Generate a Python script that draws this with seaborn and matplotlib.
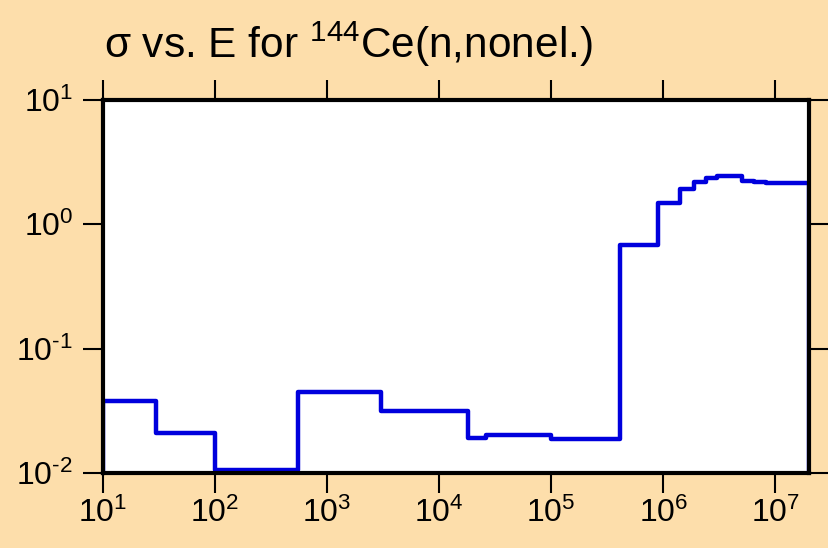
import numpy as np
import pandas as pd
import seaborn as sns
import matplotlib
import matplotlib.pyplot as plt

matplotlib.use("Agg")

# Group boundaries (eV) and cross sections (b)
EDGES = [10, 30, 100, 550, 3000, 1.8e4, 2.6e4, 1e5, 4.1e5, 9e5, 1.42e6,
         1.9e6, 2.4e6, 3e6, 5e6, 6.5e6, 8.3e6, 2e7]
SIGMA = [0.038, 0.021, 0.0105, 0.045, 0.0315, 0.0191, 0.0202, 0.0188,
         0.68, 1.48, 1.92, 2.19, 2.36, 2.45, 2.24, 2.18, 2.14]
X_EXP = [1, 2, 3, 4, 5, 6, 7]
Y_EXP = [-2, -1, 0, 1]

BG = "#FDDEAB"
LINE = "#0000DD"

sns.set_style("ticks")
plt.rcParams["font.family"] = ["Liberation Sans", "DejaVu Sans"]
plt.rcParams["mathtext.fontset"] = "custom"
plt.rcParams["mathtext.rm"] = "Liberation Sans"
plt.rcParams["mathtext.it"] = "Liberation Sans:italic"
plt.rcParams["text.color"] = "black"


def exp_label(e):
    # plain hyphen for negative exponents, as in the reference
    s = str(e).replace("-", "\u2010")
    return r"$\mathregular{10^{%s}}$" % s


# closed step outline: drop to below the axis at both ends
low = 1e-4
xs = [EDGES[0]] + EDGES[:-1] + [EDGES[-1], EDGES[-1]]
ys = [low] + SIGMA + [SIGMA[-1], low]
df = pd.DataFrame({"E": xs, "sigma": ys})

fig = plt.figure(figsize=(8.29, 5.48), dpi=100, facecolor=BG)
ax = fig.add_axes([0.1242, 0.1369, 0.8517, 0.6806])
ax.set_facecolor("white")

sns.lineplot(data=df, x="E", y="sigma", ax=ax, estimator=None, sort=False,
             drawstyle="steps-post", color=LINE, linewidth=3.2)

ax.set_xscale("log")
ax.set_yscale("log")
ax.set_xlim(10, 2e7)
ax.set_ylim(1e-2, 10)

ax.set_xticks([10.0 ** e for e in X_EXP])
ax.set_xticklabels([exp_label(e) for e in X_EXP])
ax.set_yticks([10.0 ** e for e in Y_EXP])
ax.set_yticklabels([exp_label(e) for e in Y_EXP])
ax.minorticks_off()
ax.tick_params(which="major", direction="out", length=14.5, width=1.5,
               top=True, right=True, labelsize=23, colors="black")
ax.tick_params(axis="y", pad=7)
ax.tick_params(axis="x", pad=3)
ax.set_xlabel("")
ax.set_ylabel("")

for sp in ax.spines.values():
    sp.set_visible(True)
    sp.set_linewidth(3)
    sp.set_color("black")

fig.text(0.126, 0.894, r"σ vs. E for $\mathregular{^{144}}$Ce(n,nonel.)",
         fontsize=30.5, ha="left", va="baseline", color="black")

fig.savefig("out.png", dpi=100, facecolor=BG)
plt.close(fig)
